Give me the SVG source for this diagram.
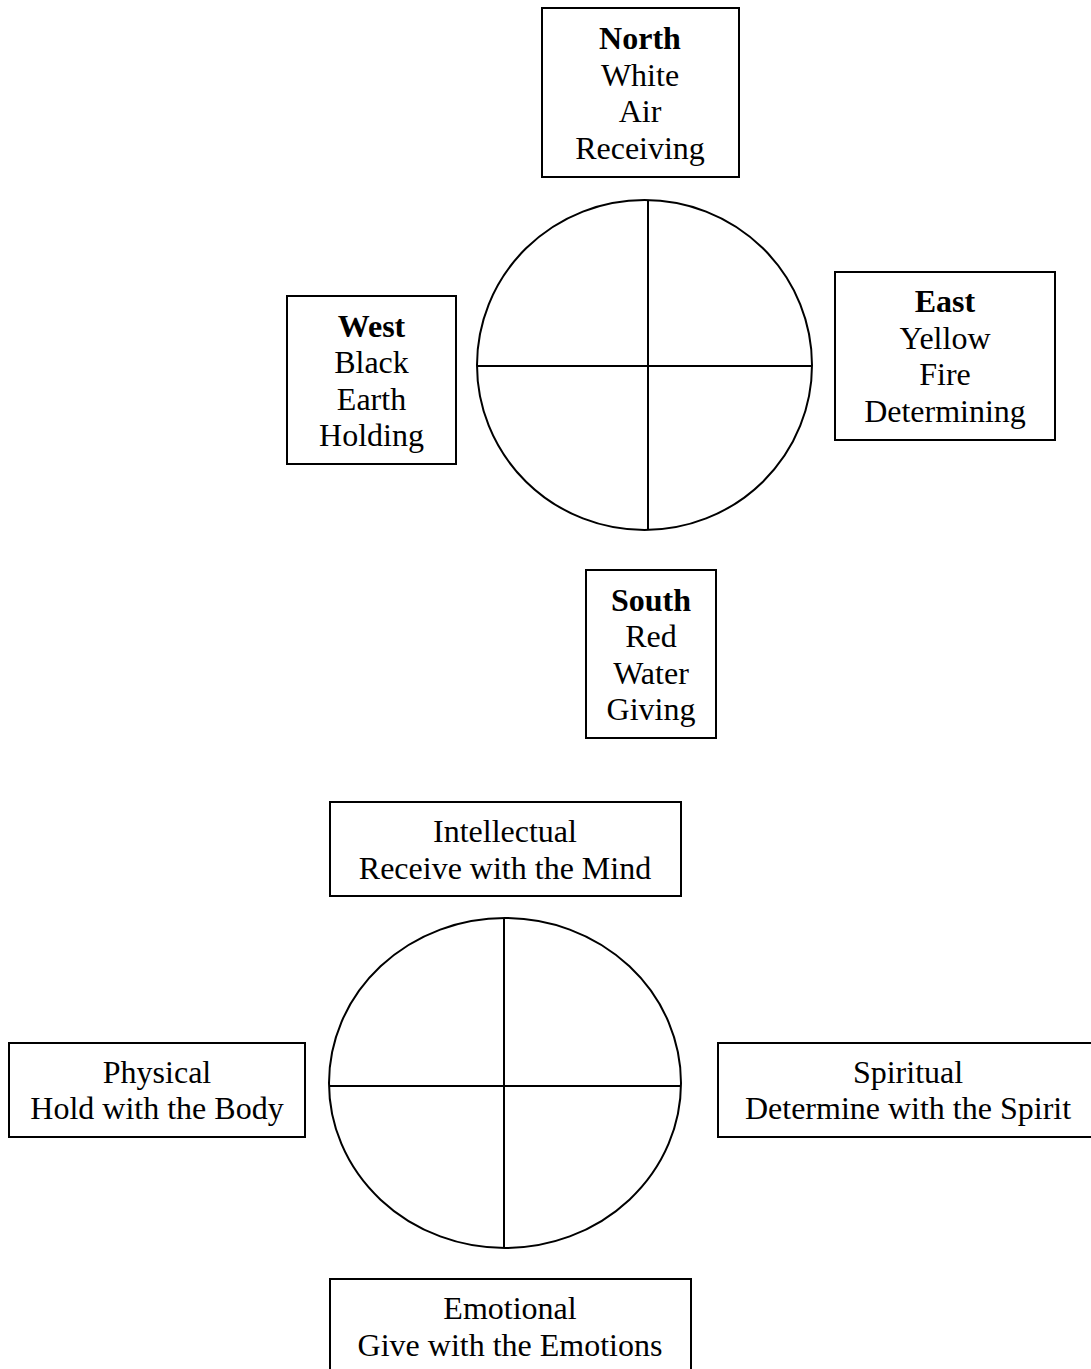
<svg xmlns="http://www.w3.org/2000/svg" width="1091" height="1369" viewBox="0 0 1091 1369">
  <style>
    .box { fill: #fff; stroke: #000; stroke-width: 2; }
    .wheel { fill: none; stroke: #000; stroke-width: 2; }
    .cross { stroke: #000; stroke-width: 2; }
    text { font-family: "Liberation Serif", "Times New Roman", serif; font-size: 32px; fill: #000; text-anchor: middle; }
    .head { font-weight: bold; }
  </style>
  <rect width="1091" height="1369" fill="#fff"/>

  <!-- Medicine wheel: directions -->
  <g id="wheel-directions">
    <ellipse class="wheel" cx="644.5" cy="365" rx="167.5" ry="165"/>
    <line class="cross" x1="648" y1="200" x2="648" y2="530"/>
    <line class="cross" x1="477" y1="366" x2="812" y2="366"/>
  </g>

  <g id="north">
    <rect class="box" x="542" y="8" width="197" height="169"/>
    <text class="head" x="640" y="49">North</text>
    <text x="640" y="86">White</text>
    <text x="640" y="122">Air</text>
    <text x="640" y="159">Receiving</text>
  </g>

  <g id="west">
    <rect class="box" x="287" y="296" width="169" height="168"/>
    <text class="head" x="371.5" y="337">West</text>
    <text x="371.5" y="373">Black</text>
    <text x="371.5" y="410">Earth</text>
    <text x="371.5" y="446">Holding</text>
  </g>

  <g id="east">
    <rect class="box" x="835" y="272" width="220" height="168"/>
    <text class="head" x="945" y="312">East</text>
    <text x="945" y="349">Yellow</text>
    <text x="945" y="385">Fire</text>
    <text x="945" y="422">Determining</text>
  </g>

  <g id="south">
    <rect class="box" x="586" y="570" width="130" height="168"/>
    <text class="head" x="651" y="611">South</text>
    <text x="651" y="647">Red</text>
    <text x="651" y="684">Water</text>
    <text x="651" y="720">Giving</text>
  </g>

  <!-- Medicine wheel: aspects of the self -->
  <g id="wheel-aspects">
    <ellipse class="wheel" cx="505" cy="1083" rx="176" ry="165"/>
    <line class="cross" x1="504" y1="918" x2="504" y2="1248"/>
    <line class="cross" x1="329" y1="1086" x2="681" y2="1086"/>
  </g>

  <g id="intellectual">
    <rect class="box" x="330" y="802" width="351" height="94"/>
    <text x="505" y="842">Intellectual</text>
    <text x="505" y="879">Receive with the Mind</text>
  </g>

  <g id="physical">
    <rect class="box" x="9" y="1043" width="296" height="94"/>
    <text x="157" y="1083">Physical</text>
    <text x="157" y="1119">Hold with the Body</text>
  </g>

  <g id="spiritual">
    <rect class="box" x="718" y="1043" width="380" height="94"/>
    <text x="908" y="1083">Spiritual</text>
    <text x="908" y="1119">Determine with the Spirit</text>
  </g>

  <g id="emotional">
    <rect class="box" x="330" y="1279" width="361" height="94"/>
    <text x="510" y="1319">Emotional</text>
    <text x="510" y="1356">Give with the Emotions</text>
  </g>
</svg>
